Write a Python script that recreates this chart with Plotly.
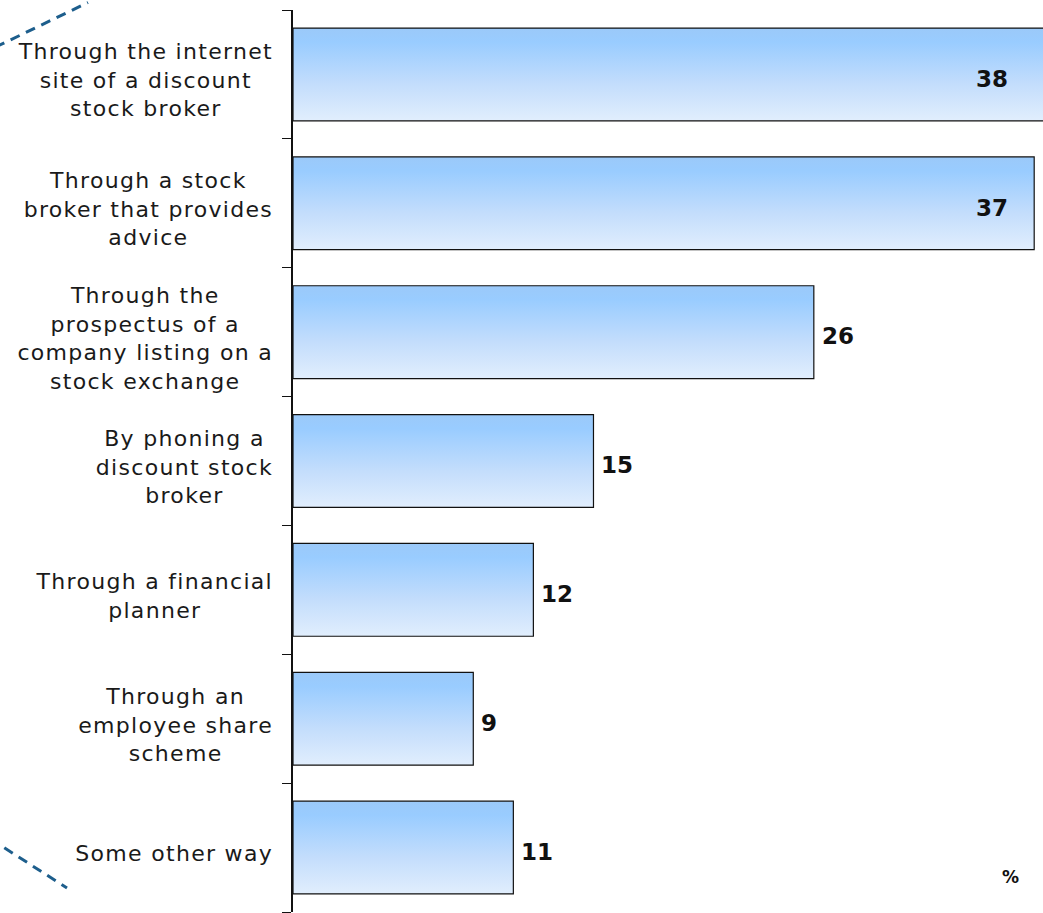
import plotly.graph_objects as go

# Survey responses: ways of buying shares (percent of respondents)
categories = [
    "Through the internet<br>site of a discount<br>stock broker",
    "Through a stock<br>broker that provides<br>advice",
    "Through the<br>prospectus of a<br>company listing on a<br>stock exchange",
    "By phoning a<br>discount stock<br>broker",
    "Through a financial<br>planner",
    "Through an<br>employee share<br>scheme",
    "Some other way",
]
values = [38, 37, 26, 15, 12, 9, 11]
unit_label = "%"

BAR_HALF = 0.36          # half of the bar thickness in category units
X_MAX = 37.44            # visible extent of the value axis
INSIDE_LIMIT = 30        # labels of longer bars sit inside the bar
INSIDE_LABEL_X = 35.8    # right edge of those inside labels

FONT = "DejaVu Sans"
gradient = [[0.0, "#9bc9f9"], [0.15, "#99ccff"], [0.6, "#c3ddfc"], [1.0, "#e1eefd"]]

fig = go.Figure()

for i, v in enumerate(values):
    top, bottom = i - BAR_HALF, i + BAR_HALF
    fig.add_trace(go.Scatter(
        x=[0, v, v, 0, 0],
        y=[top, top, bottom, bottom, top],
        mode="lines",
        fill="toself",
        fillgradient=dict(type="vertical", colorscale=gradient, start=top, stop=bottom),
        line=dict(color="#111111", width=1.2),
        hoverinfo="skip",
        showlegend=False,
    ))

annotations = []
# category labels first (indices 0..n-1), centred lines in a right-aligned block
for i, cat in enumerate(categories):
    annotations.append(dict(
        x=-0.028, xref="paper", y=i, yref="y",
        text=cat, showarrow=False, xanchor="right", yanchor="middle", align="center",
        yshift=-6,
        font=dict(family=FONT, size=22, color="#1a1a1a"),
    ))

# value labels
for i, v in enumerate(values):
    if v > INSIDE_LIMIT:
        annotations.append(dict(
            x=INSIDE_LABEL_X, y=i, xref="x", yref="y", text=f"<b>{v}</b>",
            showarrow=False, xanchor="right", yanchor="middle", yshift=-5,
            font=dict(family=FONT, size=23, color="#111111"),
        ))
    else:
        annotations.append(dict(
            x=v, y=i, xref="x", yref="y", text=f"<b>{v}</b>",
            showarrow=False, xanchor="left", yanchor="middle", xshift=6, yshift=-4,
            font=dict(family=FONT, size=23, color="#111111"),
        ))

annotations.append(dict(
    x=0.956, y=0.039, xref="paper", yref="paper", text=f"<b>{unit_label}</b>",
    showarrow=False, xanchor="center", yanchor="middle",
    font=dict(family=FONT, size=17, color="#111111"),
))

# decorative dashed strokes at the left edge
dash_style = dict(color="#1d5e8c", width=3, dash="10px,7px")
shapes = [
    dict(type="line", xref="paper", yref="paper",
         x0=(-20 - 293) / 750, y0=(912 - 54.6) / 902,
         x1=(88 - 293) / 750, y1=(912 - 2.5) / 902, line=dash_style),
    dict(type="line", xref="paper", yref="paper",
         x0=(-10 - 293) / 750, y0=(912 - 838.6) / 902,
         x1=(67 - 293) / 750, y1=(912 - 888) / 902, line=dash_style),
]

n = len(categories)
fig.update_layout(
    width=1043, height=913,
    margin=dict(l=293, r=0, t=10, b=1, autoexpand=False),
    paper_bgcolor="white", plot_bgcolor="white",
    showlegend=False,
    annotations=annotations,
    shapes=shapes,
    xaxis=dict(range=[0, X_MAX], visible=False, fixedrange=True),
    yaxis=dict(
        range=[n - 0.5, -0.5],
        tickvals=[k - 0.5 for k in range(n + 1)],
        ticks="outside", ticklen=9, tickwidth=1.2, tickcolor="#111111",
        showticklabels=False, showgrid=False, zeroline=False,
        showline=True, linecolor="#111111", linewidth=2,
        fixedrange=True,
    ),
)

# Category labels use a slightly tracked-out typeface; after spacing the
# letters, keep each block's right edge aligned next to the axis.
# The repositioning is idempotent so repeated redraws do not accumulate.
label_spacing_js = """
(function () {
  var gd = document.getElementById('{plot_id}');
  var NCAT = %d, RIGHT = 281, SPACING = '1.3px';
  function track() {
    gd.querySelectorAll('g.annotation').forEach(function (g) {
      var idx = +g.getAttribute('data-index');
      if (idx >= NCAT) return;
      var t = g.querySelector('text.annotation-text');
      if (!t) return;
      t.style.letterSpacing = SPACING;
      var base = t.getAttribute('data-base-transform');
      if (base === null) {
        base = t.getAttribute('transform') || '';
        t.setAttribute('data-base-transform', base);
      }
      if (base) t.setAttribute('transform', base); else t.removeAttribute('transform');
      var r = t.getBoundingClientRect();
      var dx = RIGHT - r.right;
      t.setAttribute('transform', (base + ' translate(' + dx + ',0)').trim());
    });
  }
  track();
  if (gd.on) gd.on('plotly_afterplot', track);
})();
""" % n

fig.write_html("out.html", post_script=label_spacing_js)
